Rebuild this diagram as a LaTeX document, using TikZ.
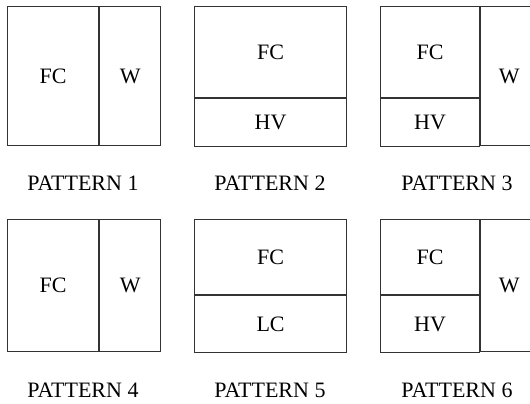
\documentclass[tikz,border=0pt]{standalone}
\usepackage{fontspec}
\setmainfont{Liberation Serif}
\usetikzlibrary{positioning}
\begin{document}
\begin{tikzpicture}[font=\fontsize{11}{13}\selectfont]
    \tikzstyle{cell}=[draw=black!80,line width=0.6pt,rectangle,inner sep=0pt,anchor=north west]
    \tikzstyle{lab}=[inner sep=0pt]
    \useasboundingbox (0,0) rectangle (265pt,-201.5pt);

    % row 1
    \node[cell, minimum width=45.5pt, minimum height=69.5pt] (fc1) at (3.5pt,-3pt) {FC};
    \node[cell, minimum width=30.5pt, minimum height=69.5pt] (w1) at (fc1.north east) {W};

    \node[cell, minimum width=76pt, minimum height=45.5pt] (fc2) at (97pt,-3pt) {FC};
    \node[cell, minimum width=76pt, minimum height=24pt] (hv2) at (fc2.south west) {HV};

    \node[cell, minimum width=49.5pt, minimum height=45.5pt] (fc3) at (190pt,-3pt) {FC};
    \node[cell, minimum width=49.5pt, minimum height=24pt] (hv3) at (fc3.south west) {HV};
    \node[cell, minimum width=28.5pt, minimum height=69.5pt] (w3) at (fc3.north east) {W};

    \node[lab] (lab1) at (41.5pt,-91.5pt) {PATTERN 1};
    \node[lab] (lab2) at (135pt,-91.5pt) {PATTERN 2};
    \node[lab] (lab3) at (228.5pt,-91.5pt) {PATTERN 3};

    % row 2
    \node[cell, minimum width=45.5pt, minimum height=66pt] (fc4) at (3.5pt,-109.5pt) {FC};
    \node[cell, minimum width=30.5pt, minimum height=66pt] (w4) at (fc4.north east) {W};

    \node[cell, minimum width=76pt, minimum height=37.5pt] (fc5) at (97pt,-109.5pt) {FC};
    \node[cell, minimum width=76pt, minimum height=28.5pt] (lc5) at (fc5.south west) {LC};

    \node[cell, minimum width=49.5pt, minimum height=37.5pt] (fc6) at (190pt,-109.5pt) {FC};
    \node[cell, minimum width=49.5pt, minimum height=28.5pt] (hv6) at (fc6.south west) {HV};
    \node[cell, minimum width=28.5pt, minimum height=66pt] (w6) at (fc6.north east) {W};

    \node[lab] (lab4) at (41.5pt,-195pt) {PATTERN 4};
    \node[lab] (lab5) at (135pt,-195pt) {PATTERN 5};
    \node[lab] (lab6) at (228.5pt,-195pt) {PATTERN 6};
\end{tikzpicture}
\end{document}
